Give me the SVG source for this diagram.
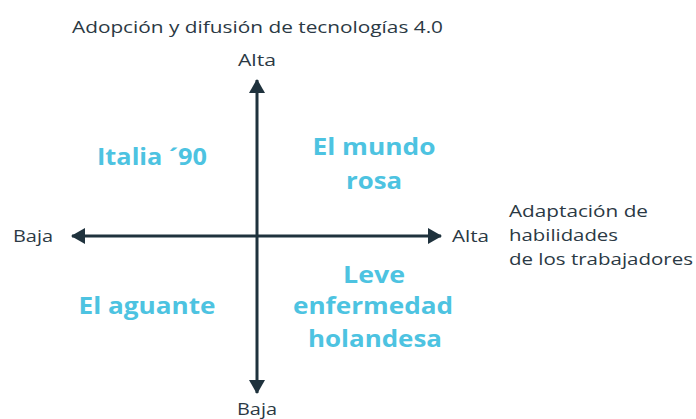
<svg xmlns="http://www.w3.org/2000/svg" width="696" height="419" viewBox="0 0 696 419">
<style>
.lbl{font-family:"Open Sans","Liberation Sans",sans-serif;font-size:17px;fill:#2b3944}
.q{font-family:"Open Sans","Liberation Sans",sans-serif;font-size:24px;font-weight:700;fill:#4dc3e1;text-anchor:middle}
.ax{stroke:#1f323d;stroke-width:3;fill:none}
</style>
<defs>
<marker id="ah" viewBox="0 0 14 16" refX="13" refY="8" markerWidth="14" markerHeight="16" markerUnits="userSpaceOnUse" orient="auto-start-reverse">
<path d="M0,0 L14,8 L0,16 Z" fill="#1f323d"/>
</marker>
</defs>
<rect width="696" height="419" fill="#fff"/>
<g id="connectors">
<line class="ax" x1="257" y1="393" x2="257" y2="80" marker-end="url(#ah)" marker-start="url(#ah)"/>
<line class="ax" x1="72" y1="236" x2="441" y2="236" marker-end="url(#ah)" marker-start="url(#ah)"/>
</g>
<g id="axis-y-title"><text class="lbl" x="72" y="33" textLength="371" lengthAdjust="spacingAndGlyphs">Adopción y difusión de tecnologías 4.0</text></g>
<g id="y-alta"><text class="lbl" x="238" y="66" textLength="38" lengthAdjust="spacingAndGlyphs">Alta</text></g>
<g id="y-baja"><text class="lbl" x="237" y="415" textLength="40" lengthAdjust="spacingAndGlyphs">Baja</text></g>
<g id="x-baja"><text class="lbl" x="13" y="242" textLength="40" lengthAdjust="spacingAndGlyphs">Baja</text></g>
<g id="x-alta"><text class="lbl" x="452" y="242" textLength="37" lengthAdjust="spacingAndGlyphs">Alta</text></g>
<g id="axis-x-title">
<text class="lbl" x="509" y="217" textLength="139" lengthAdjust="spacingAndGlyphs">Adaptación de</text>
<text class="lbl" x="509" y="241" textLength="109" lengthAdjust="spacingAndGlyphs">habilidades</text>
<text class="lbl" x="509" y="265" textLength="184" lengthAdjust="spacingAndGlyphs">de los trabajadores</text>
</g>
<g id="q-italia"><text class="q" x="152" y="165" textLength="110" lengthAdjust="spacingAndGlyphs">Italia ´90</text></g>
<g id="q-mundo"><text class="q" x="374" y="155" textLength="123" lengthAdjust="spacingAndGlyphs">El mundo</text><text class="q" x="374" y="189" textLength="56" lengthAdjust="spacingAndGlyphs">rosa</text></g>
<g id="q-aguante"><text class="q" x="147" y="314" textLength="137" lengthAdjust="spacingAndGlyphs">El aguante</text></g>
<g id="q-leve"><text class="q" x="374" y="283" textLength="62" lengthAdjust="spacingAndGlyphs">Leve</text><text class="q" x="373" y="314" textLength="160" lengthAdjust="spacingAndGlyphs">enfermedad</text><text class="q" x="375" y="347" textLength="134" lengthAdjust="spacingAndGlyphs">holandesa</text></g>
</svg>
